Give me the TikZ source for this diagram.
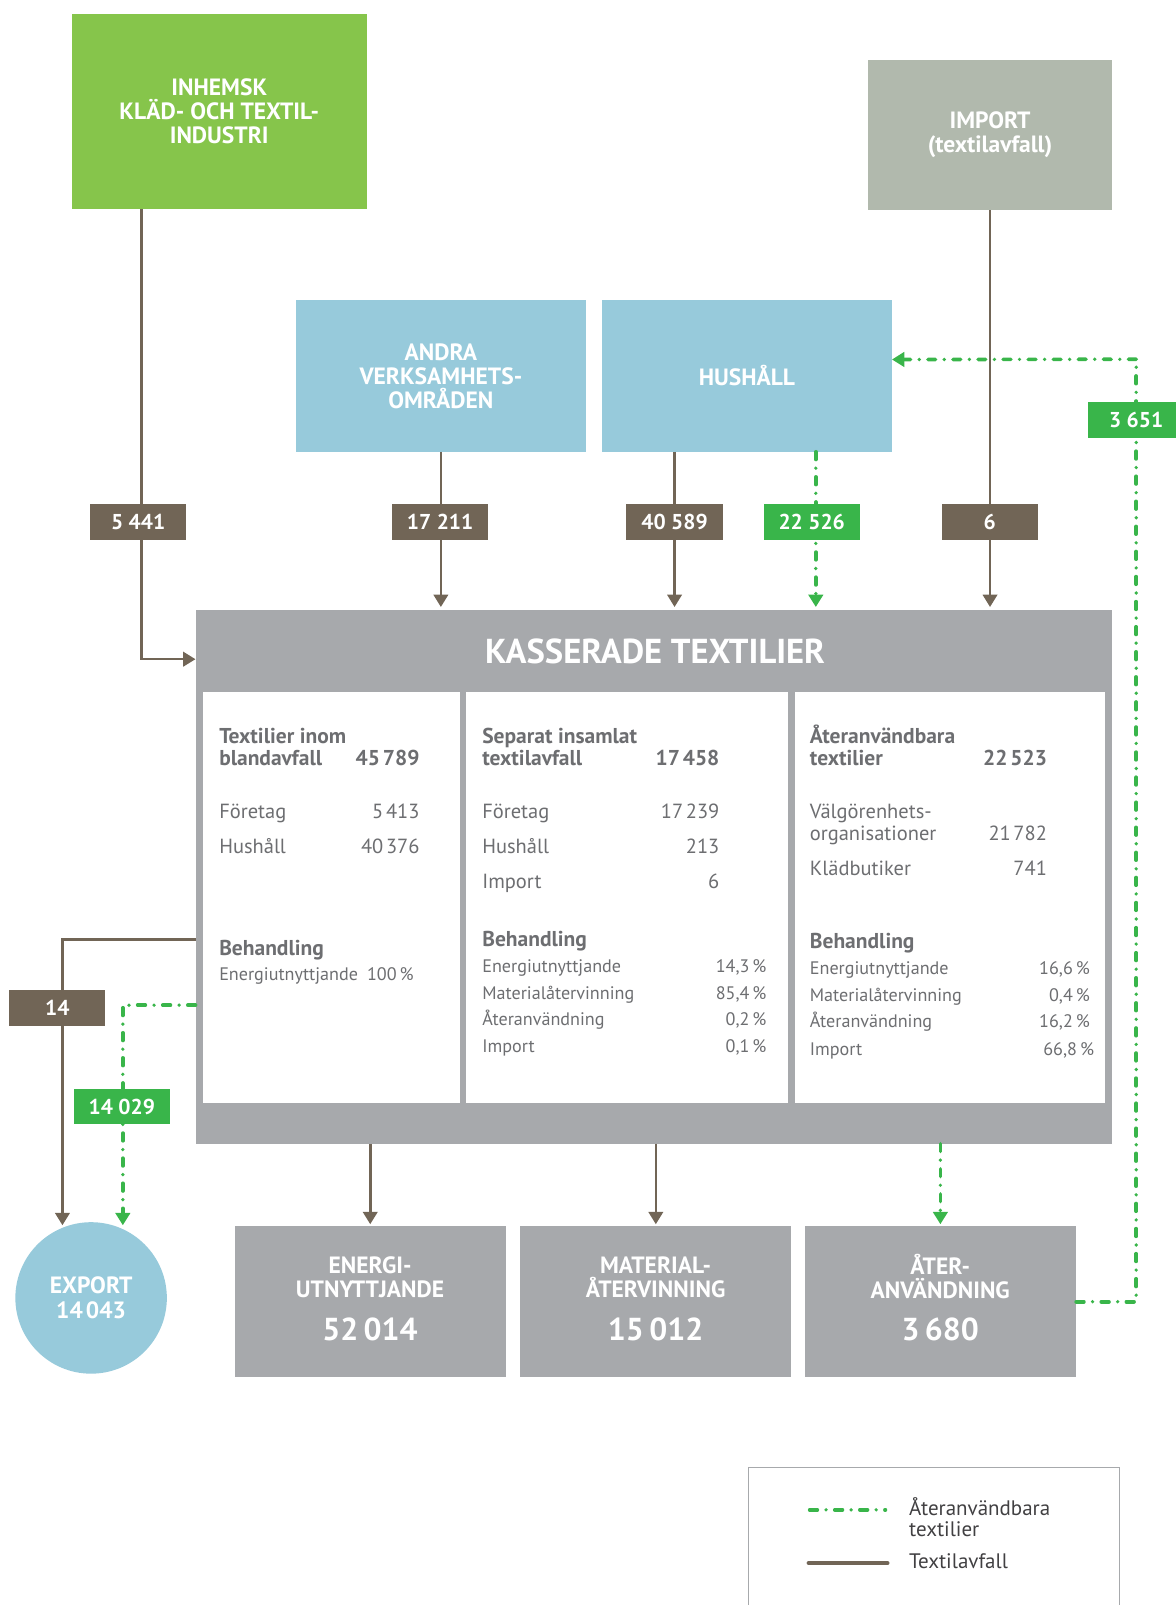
\documentclass[tikz,border=0pt]{standalone}
\usepackage{fontspec}
\setmainfont{PT Sans}
\usetikzlibrary{arrows.meta,calc}
\definecolor{cgreen}{HTML}{86C54B}
\definecolor{cimport}{HTML}{B1B9AD}
\definecolor{cblue}{HTML}{97CADB}
\definecolor{cbrown}{HTML}{716556}
\definecolor{cbright}{HTML}{39B54A}
\definecolor{cgrey}{HTML}{A7A9AC}
\definecolor{ctext}{HTML}{6D6E71}
\definecolor{cleg}{HTML}{A7A9AC}
\definecolor{cdark}{HTML}{414042}
\newcommand{\tsp}{\hspace{0.13em}}
\tikzset{
  bx/.style={rectangle, inner sep=0pt, anchor=north west, text=white,
    font=\bfseries\fontsize{23}{23.5}\selectfont, align=center},
  lbl/.style={rectangle, inner sep=0pt, minimum width=94pt, minimum height=35pt,
    text=white, font=\bfseries\fontsize{21}{24}\selectfont},
  waste/.style={draw=cbrown, line width=2.5pt},
  reuse/.style={draw=cbright, line width=3.6pt, line cap=round,
    dash pattern=on 7.5pt off 8.5pt on 0pt off 8.5pt},
  tip/.style={-{Triangle[width=14pt,length=12pt]}},
  pb/.style={anchor=base west, inner sep=0pt, text=ctext, font=\bfseries\fontsize{21}{22}\selectfont},
  pbe/.style={pb, anchor=base east},
  pr/.style={anchor=base west, inner sep=0pt, text=ctext, font=\fontsize{20}{22}\selectfont},
  pre/.style={pr, anchor=base east},
  ps/.style={anchor=base west, inner sep=0pt, text=ctext, font=\fontsize{17.7}{20}\selectfont},
  pse/.style={ps, anchor=base east},
  bigt/.style={text=white, inner sep=0pt, font=\bfseries\fontsize{23}{23.5}\selectfont, align=center},
  bign/.style={text=white, inner sep=0pt, font=\bfseries\fontsize{31}{34}\selectfont},
  legt/.style={anchor=west, inner sep=0pt, text=cdark, font=\fontsize{20.5}{20.5}\selectfont, align=left},
}
\begin{document}
\begin{tikzpicture}[x=1pt,y=-1pt]
\useasboundingbox (0,0) rectangle (1148,1568);

% source boxes
\node[bx, fill=cgreen, minimum width=288pt, minimum height=191pt] (inh) at (70,13) {INHEMSK\\KLÄD- OCH TEXTIL-\\INDUSTRI};
\node[bx, fill=cimport, minimum width=238pt, minimum height=147pt] (imp) at (848,58) {IMPORT\\(textilavfall)};
\node[bx, fill=cblue, minimum width=283pt, minimum height=148pt] (andra) at (289,293) {ANDRA\\VERKSAMHETS-\\OMRÅDEN};
\node[bx, fill=cblue, minimum width=283pt, minimum height=148pt] (hush) at (588,293) {HUSHÅLL};

% main box
\node[rectangle, fill=cgrey, anchor=north west, inner sep=0pt, minimum width=895pt, minimum height=521pt] (kass) at (191,596) {};
\node[text=white, inner sep=0pt, font=\bfseries\fontsize{33.8}{36}\selectfont] (ktitle) at (640,636) {KASSERADE TEXTILIER};
\node[fill=white, anchor=north west, inner sep=0pt, minimum width=251pt, minimum height=401pt] (p1) at (198,676) {};
\node[fill=white, anchor=north west, inner sep=0pt, minimum width=315pt, minimum height=401pt] (p2) at (455,676) {};
\node[fill=white, anchor=north west, inner sep=0pt, minimum width=303pt, minimum height=401pt] (p3) at (776,676) {};

% panel 1
\node[pb] (p1a) at (214,726) {Textilier inom};
\node[pb] (p1b) at (214,748) {blandavfall};
\node[pbe] (p1bn) at (410,748) {45\tsp789};
\node[pr] (p1c) at (214,800) {Företag};
\node[pre] (p1cn) at (410,800) {5\tsp413};
\node[pr] (p1d) at (214,834) {Hushåll};
\node[pre] (p1dn) at (410,834) {40\tsp376};
\node[pb] (p1e) at (214,933) {Behandling};
\node[ps] (p1f) at (214,958) {Energiutnyttjande\enspace 100\,\%};

% panel 2
\node[pb] (p2a) at (471,726) {Separat insamlat};
\node[pb] (p2b) at (471,748) {textilavfall};
\node[pbe] (p2bn) at (703,748) {17\tsp458};
\node[pr] (p2c) at (471,800) {Företag};
\node[pre] (p2cn) at (703,800) {17\tsp239};
\node[pr] (p2d) at (471,834) {Hushåll};
\node[pre] (p2dn) at (703,834) {213};
\node[pr] (p2e) at (471,868) {Import};
\node[pre] (p2en) at (703,868) {6};
\node[pb] (p2f) at (471,925) {Behandling};
\node[ps] (p2g) at (471,950) {Energiutnyttjande};
\node[pse] (p2gn) at (749,950) {14,3\,\%};
\node[ps] (p2h) at (471,976) {Materialåtervinning};
\node[pse] (p2hn) at (749,976) {85,4\,\%};
\node[ps] (p2i) at (471,1002) {Återanvändning};
\node[pse] (p2in) at (749,1002) {0,2\,\%};
\node[ps] (p2j) at (471,1028) {Import};
\node[pse] (p2jn) at (749,1028) {0,1\,\%};

% panel 3
\node[pb] (p3a) at (791,726) {Återanvändbara};
\node[pb] (p3b) at (791,748) {textilier};
\node[pbe] (p3bn) at (1023,748) {22\tsp523};
\node[pr] (p3c) at (791,800) {Välgörenhets-};
\node[pr] (p3d) at (791,821) {organisationer};
\node[pre] (p3dn) at (1023,821) {21\tsp782};
\node[pr] (p3e) at (791,855) {Klädbutiker};
\node[pre] (p3en) at (1023,855) {741};
\node[pb] (p3f) at (791,927) {Behandling};
\node[ps] (p3g) at (791,952) {Energiutnyttjande};
\node[pse] (p3gn) at (1065,952) {16,6\,\%};
\node[ps] (p3h) at (791,978) {Materialåtervinning};
\node[pse] (p3hn) at (1065,978) {0,4\,\%};
\node[ps] (p3i) at (791,1004) {Återanvändning};
\node[pse] (p3in) at (1065,1004) {16,2\,\%};
\node[ps] (p3j) at (791,1031) {Import};
\node[pse] (p3jn) at (1069,1031) {66,8\,\%};

% output boxes
\node[bx, fill=cgrey, minimum width=265pt, minimum height=147pt] (energi) at (229,1198) {};
\node[bx, fill=cgrey, minimum width=265pt, minimum height=147pt] (mater) at (508,1198) {};
\node[bx, fill=cgrey, minimum width=265pt, minimum height=147pt] (ater) at (786,1198) {};
\node[bigt] (energiT) at (361.5,1247.5) {ENERGI-\\UTNYTTJANDE};
\node[bign] (energiN) at (361.5,1299) {52\hspace{0.17em}014};
\node[bigt] (materT) at (640.5,1247.5) {MATERIAL-\\ÅTERVINNING};
\node[bign] (materN) at (640.5,1299) {15\hspace{0.17em}012};
\node[bigt] (aterT) at (918.5,1247.5) {ÅTER-\\ANVÄNDNING};
\node[bign] (aterN) at (918.5,1299) {3\hspace{0.17em}680};

\node[circle, fill=cblue, minimum size=148pt, inner sep=0pt, text=white,
  font=\bfseries\fontsize{23}{24}\selectfont, align=center] (exp) at (89,1268) {EXPORT\\14\tsp043};

% coordinates
\coordinate (h1) at ([xshift=71pt]hush.south west);
\coordinate (h2) at ([xshift=209pt]hush.south west);
\coordinate (loop) at (1110,351);
\coordinate (ex1) at (61,1197);
\coordinate (ex2) at (120,1197);

% connectors (waste)
\draw[waste,tip] ([xshift=68pt]inh.south west) |- ([yshift=-48pt]kass.north west);
\draw[waste,tip,shorten >=3pt] (andra.south) -- (andra.south |- kass.north);
\draw[waste,tip,shorten >=3pt] (h1) -- (h1 |- kass.north);
\draw[waste,tip,shorten >=3pt] (imp.south) -- (imp.south |- kass.north);
\draw[waste,tip] ([yshift=-322pt]kass.north west) -| (ex1);
\draw[waste,tip,shorten >=2pt] (energi.north |- kass.south) -- (energi.north);
\draw[waste,tip,shorten >=2pt] (mater.north |- kass.south) -- (mater.north);

% connectors (reuse)
\draw[reuse,tip,shorten >=3pt] (h2) -- (h2 |- kass.north);
\draw[reuse] (ater.east) -| (loop);
\draw[reuse,tip] (loop) -- ([yshift=16pt]hush.east);
\draw[reuse,tip] ([yshift=-386pt]kass.north west) -| (ex2);
\draw[reuse,tip,shorten >=2pt] (ater.north |- kass.south) -- (ater.north);

% value labels
\node[lbl, fill=cbrown] (l5441) at (135,510) {5 441};
\node[lbl, fill=cbrown] (l17211) at (430,510) {17 211};
\node[lbl, fill=cbrown] (l40589) at (659,510) {40 589};
\node[lbl, fill=cbright] (l22526) at (793,510) {22 526};
\node[lbl, fill=cbrown] (l6) at (967,510) {6};
\node[lbl, fill=cbright] (l3651) at (1110,410) {3 651};
\node[lbl, fill=cbrown] (l14) at (56,985) {14};
\node[lbl, fill=cbright] (l14029) at (119,1081) {14 029};

% legend
\node[draw=cleg, line width=1pt, anchor=north west, inner sep=0pt, minimum width=362pt, minimum height=200pt] (leg) at (731,1433) {};
\coordinate (lga) at (791,1475);
\coordinate (lgb) at (865,1475);
\coordinate (lgc) at (790,1527);
\coordinate (lgd) at (867,1527);
\draw[reuse] (lga) -- (lgb);
\draw[draw=cbrown, line width=4pt, line cap=round] (lgc) -- (lgd);
\node[legt] (legt1) at (888,1482) {Återanvändbara\\textilier};
\node[legt] (legt2) at (888,1525) {Textilavfall};
\end{tikzpicture}
\end{document}
